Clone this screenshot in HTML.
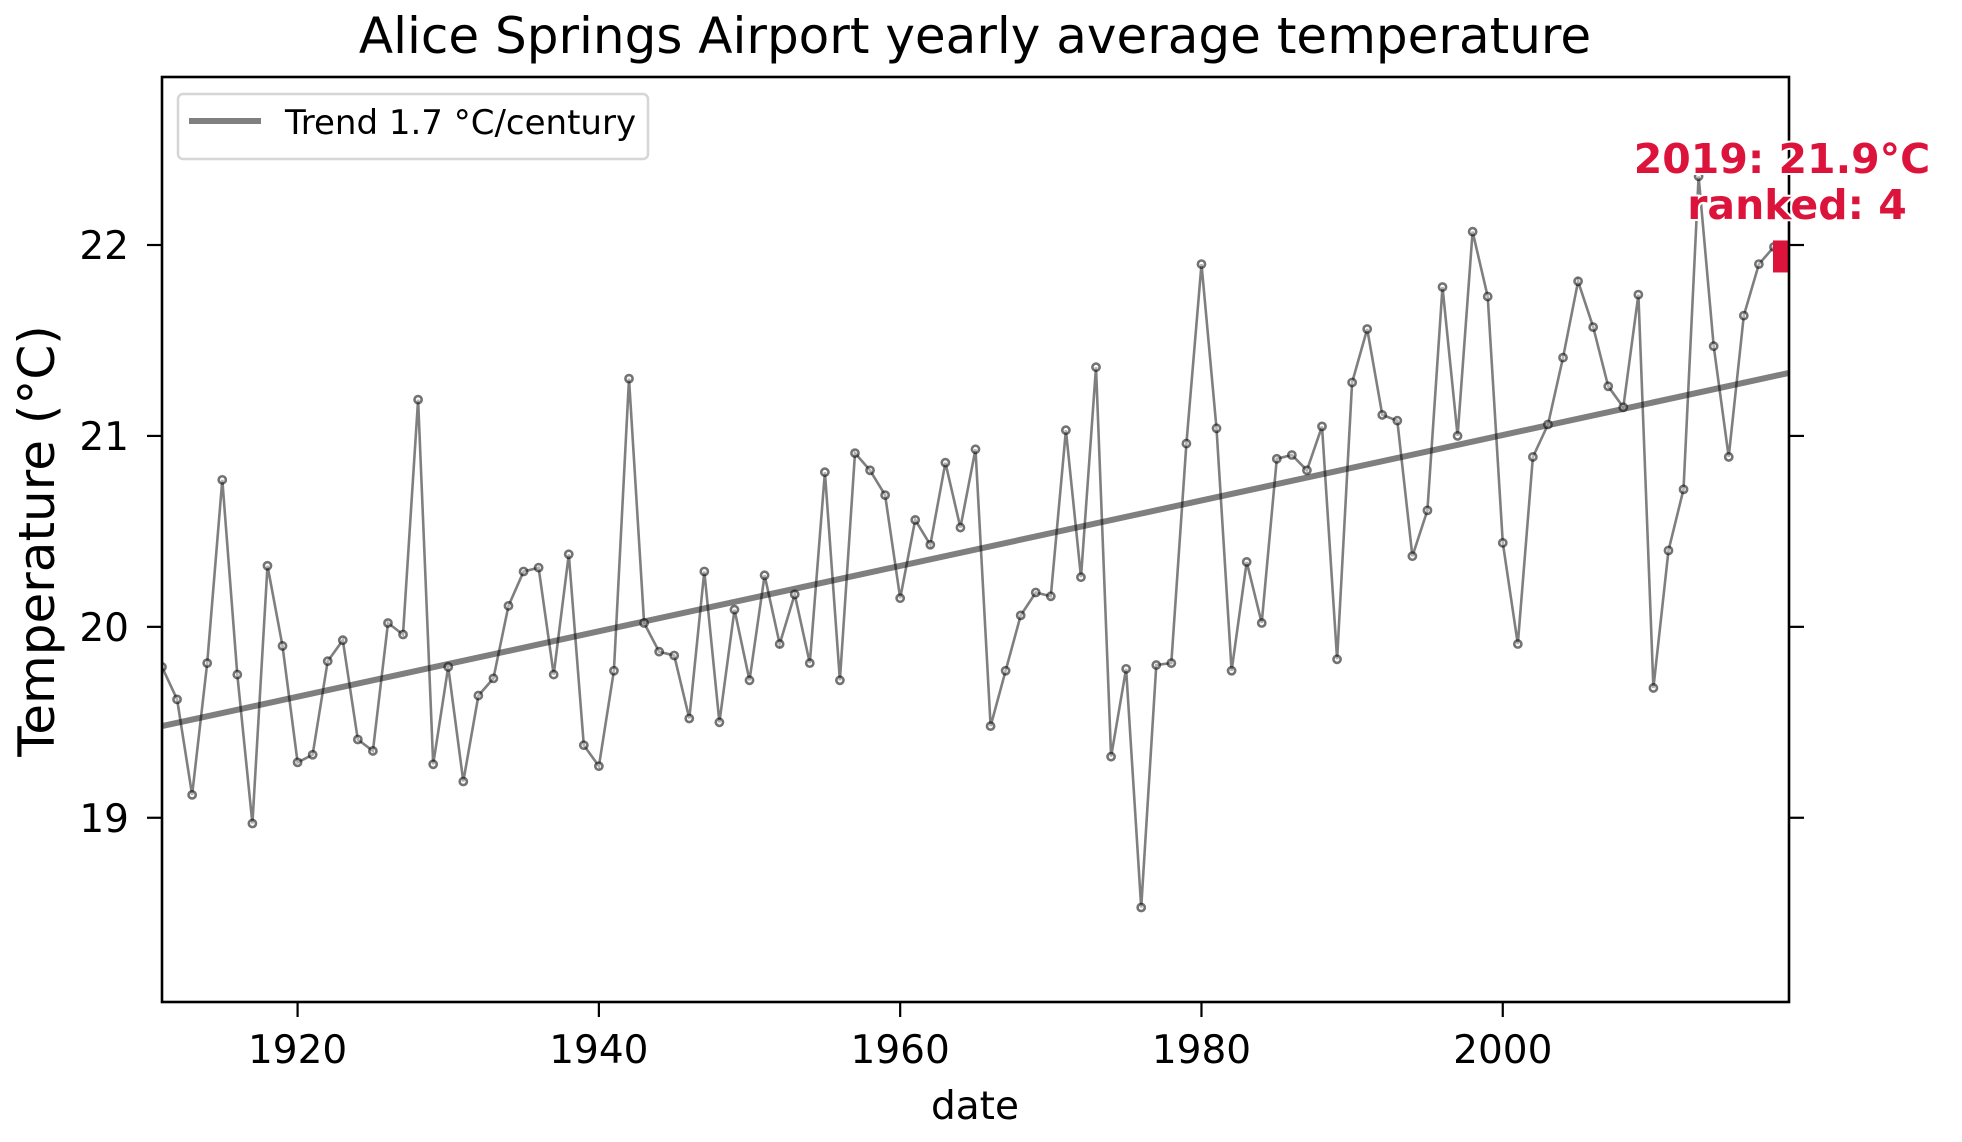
<!DOCTYPE html>
<html><head><meta charset="utf-8">
<style>
html,body{margin:0;padding:0;background:#fff;}
svg{display:block;font-family:"DejaVu Sans","Liberation Sans",sans-serif;}
</style></head>
<body>
<svg id="chart" width="1962" height="1142" viewBox="0 0 1962 1142" xmlns="http://www.w3.org/2000/svg">
  <rect width="1962" height="1142" fill="#fff"/>
  <defs><clipPath id="plotclip"><rect x="162" y="77" width="1627" height="925"/></clipPath></defs>
  <text x="975" y="53" font-size="50" text-anchor="middle" fill="#000">Alice Springs Airport yearly average temperature</text>
  <text transform="translate(54,541) rotate(-90)" font-size="50" text-anchor="middle" fill="#000">Temperature (°C)</text>
  <text x="975" y="1119" font-size="39" text-anchor="middle" fill="#000">date</text>
  <g id="plot" clip-path="url(#plotclip)"></g>
  <g id="axes"></g>
</svg>
<script>
const years = [];
for (let y = 1911; y <= 2019; y++) years.push(y);
const temps = [19.79,19.62,19.12,19.81,20.77,19.75,18.97,20.32,19.90,19.29,
19.33,19.82,19.93,19.41,19.35,20.02,19.96,21.19,19.28,19.79,
19.19,19.64,19.73,20.11,20.29,20.31,19.75,20.38,19.38,19.27,
19.77,21.30,20.02,19.87,19.85,19.52,20.29,19.50,20.09,19.72,
20.27,19.91,20.17,19.81,20.81,19.72,20.91,20.82,20.69,20.15,
20.56,20.43,20.86,20.52,20.93,19.48,19.77,20.06,20.18,20.16,
21.03,20.26,21.36,19.32,19.78,18.53,19.80,19.81,20.96,21.90,
21.04,19.77,20.34,20.02,20.88,20.90,20.82,21.05,19.83,21.28,
21.56,21.11,21.08,20.37,20.61,21.78,21.00,22.07,21.73,20.44,
19.91,20.89,21.06,21.41,21.81,21.57,21.26,21.15,21.74,19.68,
20.40,20.72,22.36,21.47,20.89,21.63,21.90,21.99,21.94];
const trendYears = [1911, 2019];
const trendTemps = [19.48, 21.33];
const xTicks = [1920, 1940, 1960, 1980, 2000];
const yTicks = [19, 20, 21, 22];
const highlightYear = [2019];
const highlightTemp = [21.94];
const annotationLines = ["2019: 21.9°C", "ranked: 4"];

const L = 162, R = 1789, T = 77, B = 1002;
const xMin = 1911, xMax = 2019, yMin = 18.035, yMax = 22.88;
const sx = v => L + (v - xMin) / (xMax - xMin) * (R - L);
const sy = v => B - (v - yMin) / (yMax - yMin) * (B - T);
const NS = "http://www.w3.org/2000/svg";
function mk(tag, attrs, parent) {
  const e = document.createElementNS(NS, tag);
  for (const k in attrs) e.setAttribute(k, attrs[k]);
  parent.appendChild(e);
  return e;
}
const plot = document.getElementById('plot');
const axes = document.getElementById('axes');

const tl = mk('line', {x1: sx(trendYears[0]), y1: sy(trendTemps[0]), x2: sx(trendYears[1]), y2: sy(trendTemps[1]), stroke: '#000', 'stroke-opacity': 0.5, 'stroke-width': 6}, plot);



const pts = years.map((y, i) => sx(y).toFixed(1) + ',' + sy(temps[i]).toFixed(1)).join(' ');
const pl = mk('polyline', {points: pts, fill: 'none', stroke: '#000', 'stroke-opacity': 0.5, 'stroke-width': 2.6}, plot);



years.forEach((y, i) => {
  const c = mk('circle', {cx: sx(y), cy: sy(temps[i]), r: 3.6, fill: '#fff', 'fill-opacity': 0.4, stroke: '#000', 'stroke-opacity': 0.55, 'stroke-width': 2.6}, plot);
  
  
});

const hm = mk('rect', {x: sx(highlightYear[0]) - 16, y: sy(highlightTemp[0]) - 16, width: 32, height: 32, fill: '#dc143c'}, plot);



const fr = mk('rect', {x: L, y: T, width: R - L, height: B - T, fill: 'none', stroke: '#000', 'stroke-width': 2.6}, axes);



xTicks.forEach(t => {
  const x = sx(t);
  const tk = mk('line', {x1: x, y1: B, x2: x, y2: B + 15, stroke: '#000', 'stroke-width': 2.2}, axes);
  
  
  const lb = mk('text', {x: x, y: 1063, 'font-size': 39, 'text-anchor': 'middle', fill: '#000'}, axes);
  lb.textContent = t;
  
  
});
yTicks.forEach(t => {
  const y = sy(t);
  const tk = mk('line', {x1: L - 15, y1: y, x2: L, y2: y, stroke: '#000', 'stroke-width': 2.2}, axes);
  
  
  const tk2 = mk('line', {x1: R, y1: y, x2: R + 15, y2: y, stroke: '#000', 'stroke-width': 2.2}, axes);
  
  
  const lb = mk('text', {x: 129, y: y + 14, 'font-size': 39, 'text-anchor': 'end', fill: '#000'}, axes);
  lb.textContent = t;
  
  
});

const lg = mk('g', {}, axes);


mk('rect', {x: 178, y: 94, width: 470, height: 65, rx: 5, fill: '#fff', 'fill-opacity': 0.8, stroke: '#d6d6d6', 'stroke-width': 2.5}, lg);
const ll = mk('line', {x1: 189, y1: 121, x2: 261, y2: 121, stroke: '#808080', 'stroke-width': 6}, lg);


const lt = mk('text', {x: 285, y: 134, 'font-size': 34, fill: '#000'}, lg);
lt.textContent = 'Trend 1.7 °C/century';



const anX = [1782, 1797], anY = [173, 219];
annotationLines.forEach((s, i) => {
  const a = mk('text', {x: anX[i], y: anY[i], 'font-size': 41, 'font-weight': 'bold', 'text-anchor': 'middle', fill: '#dc143c', stroke: '#fff', 'stroke-width': 4, 'paint-order': 'stroke'}, axes);
  a.textContent = s;
  
  
});
</script>
</body></html>
